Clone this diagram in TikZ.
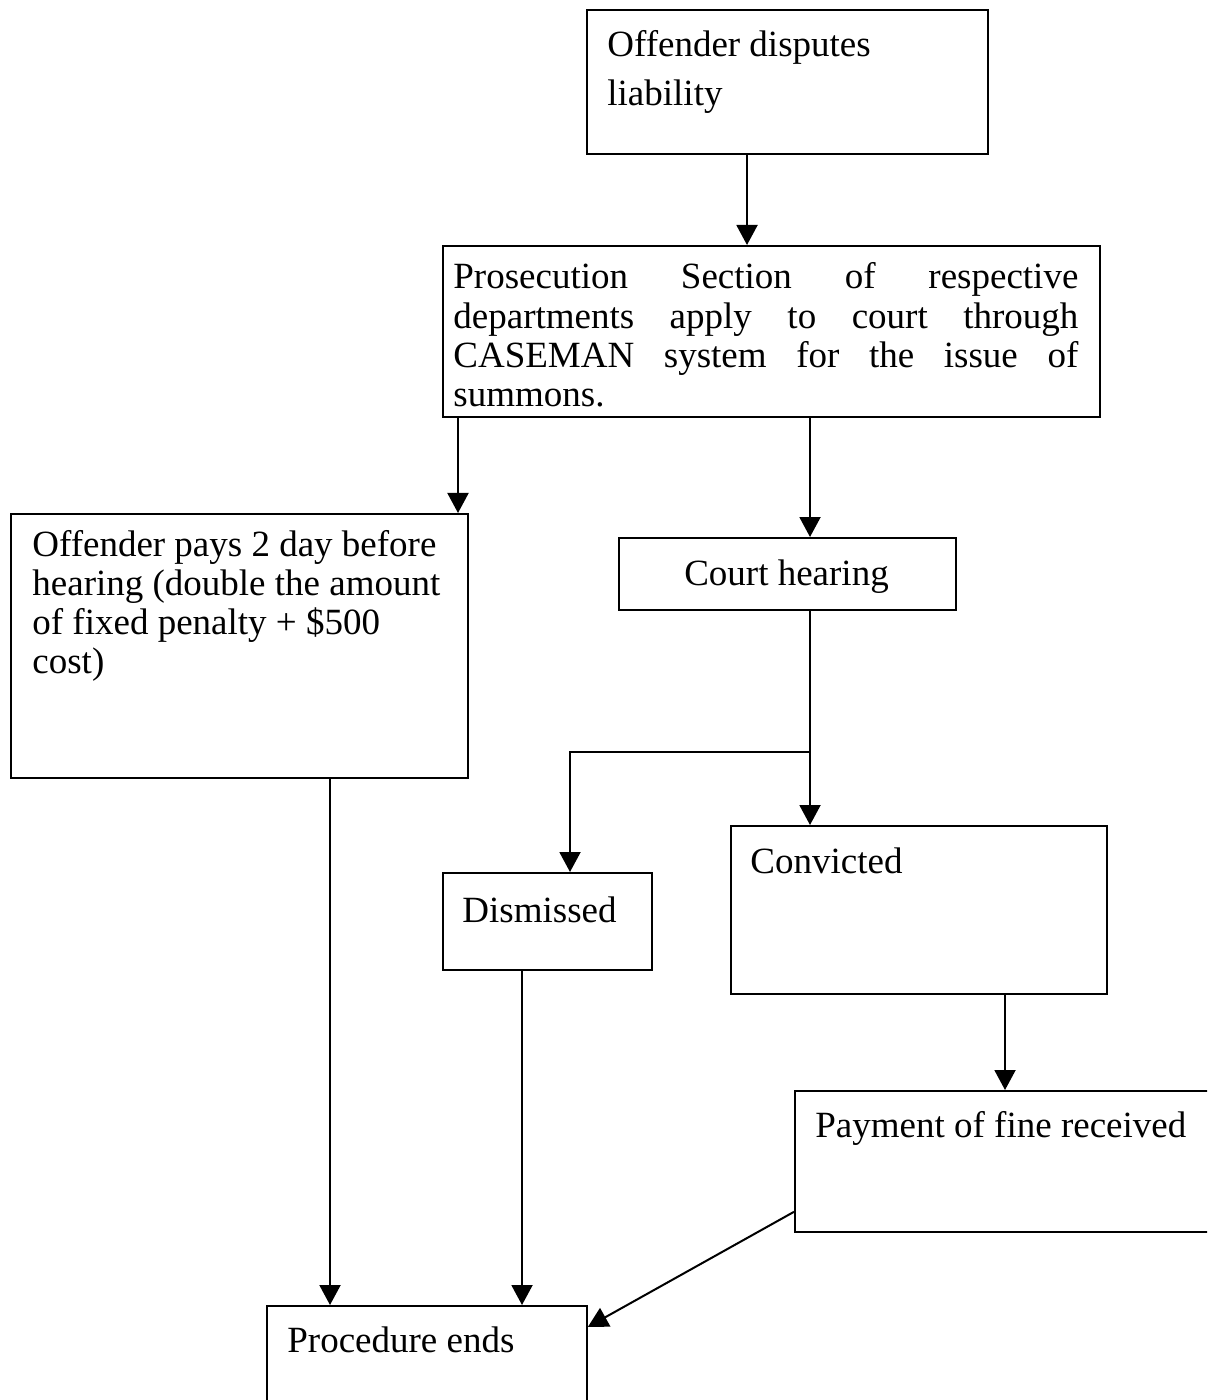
\documentclass[tikz,border=0pt]{standalone}
\usepackage{fontspec}
\setmainfont{Liberation Serif}
\usetikzlibrary{arrows.meta,calc}
\newcommand{\fullline}[1]{\leavevmode\hbox to 312.5pt{#1}}
\begin{document}
\begin{tikzpicture}[x=0.5pt,y=-0.5pt,
  box/.style={draw,line width=0.9pt,rectangle,inner sep=0pt,anchor=north west},
  txt/.style={inner sep=0pt,anchor=base west,align=flush left,font=\fontsize{18.5}{19.6}\selectfont},
  line/.style={line width=1pt},
  arr/.style={line width=1pt,-{Triangle[length=10pt,width=10.5pt]}}]
\useasboundingbox (0,0) rectangle (1207,1400);
\clip (0,0) rectangle (1207,1400);
% boxes
\node[box,minimum width=200.5pt,minimum height=72pt] (A) at (586,9) {};
\node[box,minimum width=328.5pt,minimum height=85.5pt] (B) at (442,245) {};
\node[box,minimum width=228.5pt,minimum height=132pt] (C) at (10,513) {};
\node[box,minimum width=168.5pt,minimum height=36pt] (D) at (618,537) {};
\node[box,minimum width=104.5pt,minimum height=48.5pt] (E) at (442,872) {};
\node[box,minimum width=188pt,minimum height=84pt] (F) at (730,825) {};
\node[box,minimum width=218pt,minimum height=70.5pt] (G) at (794,1090) {};
\node[box,minimum width=160pt,minimum height=62.5pt] (H) at (266,1305) {};
% texts
\node[txt,text width=195pt,font=\fontsize{18.5}{24.5}\selectfont] (tA) at (607,57) {Offender disputes\\liability};
\node[txt,text width=312.5pt] (tB) at (453,289) {\fullline{Prosecution\hfill Section\hfill of\hfill respective}\\\fullline{departments\hfill apply\hfill to\hfill court\hfill through}\\\fullline{CASEMAN\hfill system\hfill for\hfill the\hfill issue\hfill of}\\summons.};
\node[txt,text width=220pt] (tC) at (32,556) {Offender pays 2 day before\\hearing (double the amount\\of fixed penalty + \$500\\cost)};
\node[txt,anchor=base] (tD) at (786.5,585) {Court hearing};
\node[txt] (tE) at (462,922) {Dismissed};
\node[txt] (tF) at (750,873) {Convicted};
\node[txt] (tG) at (815,1137) {Payment of fine received};
\node[txt] (tH) at (287,1352) {Procedure ends};
% guide coordinates
\coordinate (xa) at (747,0);
\coordinate (xbc) at (458,0);
\coordinate (xbd) at (810,0);
\coordinate (xe) at (570,0);
\coordinate (xf) at (1005,0);
\coordinate (xc) at (330,0);
\coordinate (xeh) at (522,0);
\coordinate (j) at (810,752);
% connectors
\draw[arr] (xa |- A.south) -- (xa |- B.north);
\draw[arr] (xbc |- B.south) -- (xbc |- C.north);
\draw[arr] (xbd |- B.south) -- (xbd |- D.north);
\draw[line] (xbd |- D.south) -- (j);
\draw[arr] (j) -- (xbd |- F.north);
\draw[arr] (j) -| (xe |- E.north);
\draw[arr] (xf |- F.south) -- (xf |- G.north);
\draw[arr] (xc |- C.south) -- (xc |- H.north);
\draw[arr] (xeh |- E.south) -- (xeh |- H.north);
\draw[arr] ($(G.south west)+(0,-21)$) -- ($(H.north east)+(0,22)$);
\end{tikzpicture}
\end{document}
